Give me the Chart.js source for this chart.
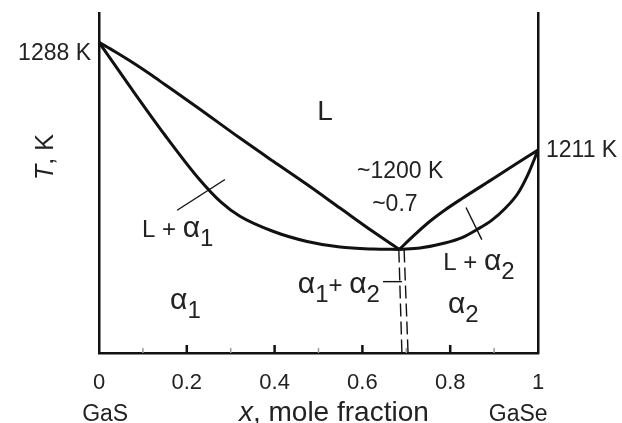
<!DOCTYPE html>
<html>
<head>
<meta charset="utf-8">
<script src="https://cdn.jsdelivr.net/npm/chart.js@4.4.1/dist/chart.umd.min.js"></script>
<style>
  html, body { margin: 0; padding: 0; background: #fff; }
  #wrap { width: 622px; height: 423px; position: relative; }
</style>
</head>
<body>
<div id="wrap"><canvas id="phase"></canvas></div>
<script>
// composition x (mole fraction GaSe) and temperature T (K)
const liquidusLeftX = [0, 0.036, 0.073, 0.116, 0.150, 0.226, 0.321, 0.396, 0.474, 0.549, 0.624, 0.684];
const liquidusLeftT = [1288, 1281.5, 1274.3, 1265.4, 1257.9, 1241.1, 1219.6, 1203.2, 1186.4, 1169.6, 1152.8, 1140];
const solidusLeftX = [0, 0.073, 0.150, 0.226, 0.278, 0.321, 0.396, 0.474, 0.549, 0.624, 0.684];
const solidusLeftT = [1288, 1255.3, 1221.8, 1191.1, 1173.8, 1163.7, 1153.0, 1145.7, 1141.7, 1140.3, 1140];
const liquidusRightX = [0.684, 0.7175, 0.749, 0.788, 0.827, 0.902, 0.954, 1];
const liquidusRightT = [1140, 1150.0, 1158.9, 1168.2, 1176.4, 1191.4, 1201.9, 1211];
const solidusRightX = [0.684, 0.731, 0.788, 0.827, 0.863, 0.895, 0.925, 0.954, 0.977, 1];
const solidusRightT = [1140, 1141.0, 1144.6, 1148.5, 1154.6, 1161.0, 1169.3, 1180.0, 1193.5, 1211];

// miscibility gap boundaries (dashed)
const gapLeftX = [0.683, 0.690];
const gapRightX = [0.695, 0.704];
const gapT = [1140, 1066];

// leader lines for region labels
const leaderLeftX = [0.178, 0.287];
const leaderLeftT = [1168, 1190];
const leaderRightX = [0.836, 0.872];
const leaderRightT = [1170, 1147];
const leaderGapX = [0.647, 0.690];
const leaderGapT = [1117, 1117];

const majorTicks = [0.2, 0.4, 0.6, 0.8];
const minorTicks = [0.1, 0.3, 0.5, 0.7, 0.9];
const xTickLabels = { 0: '0', 0.2: '0.2', 0.4: '0.4', 0.6: '0.6', 0.8: '0.8', 1: '1' };

const FONT = '"Liberation Sans", Arial, sans-serif';
const INK = '#111';
const TEXT = '#222';

const pts = (xs, ts) => xs.map((x, i) => ({ x: x, y: ts[i] }));

function curve(xs, ts) {
  return {
    data: pts(xs, ts),
    borderColor: INK,
    borderWidth: 3,
    pointRadius: 0,
    fill: false,
    cubicInterpolationMode: 'monotone'
  };
}

function thin(xs, ts, dash) {
  return {
    data: pts(xs, ts),
    borderColor: INK,
    borderWidth: 1.4,
    borderDash: dash || [],
    pointRadius: 0,
    fill: false
  };
}

// text with big alpha and dropped subscripts
function drawParts(ctx, parts, x, y) {
  let cx = x;
  parts.forEach(([t, kind]) => {
    ctx.font = (kind === 'a' ? '30px ' : '24px ') + FONT;
    ctx.fillText(t, cx, kind === 's' ? y + 9 : y);
    cx += ctx.measureText(t).width;
  });
}

const decorations = {
  id: 'decorations',
  afterDraw(chart) {
    const ctx = chart.ctx;
    const xs = chart.scales.x, ys = chart.scales.y;
    const bottom = chart.chartArea.bottom;
    ctx.save();

    // inward ticks
    ctx.lineCap = 'butt';
    ctx.strokeStyle = '#9a9a9a';
    ctx.lineWidth = 1.5;
    minorTicks.forEach(v => {
      const px = xs.getPixelForValue(v);
      ctx.beginPath(); ctx.moveTo(px, bottom); ctx.lineTo(px, bottom - 5); ctx.stroke();
    });
    ctx.strokeStyle = INK;
    ctx.lineWidth = 2.5;
    majorTicks.forEach(v => {
      const px = xs.getPixelForValue(v);
      ctx.beginPath(); ctx.moveTo(px, bottom); ctx.lineTo(px, bottom - 8); ctx.stroke();
    });

    ctx.fillStyle = TEXT;
    ctx.textBaseline = 'alphabetic';

    // melting points
    ctx.font = '23px ' + FONT;
    ctx.textAlign = 'right';
    ctx.fillText('1288 K', xs.getPixelForValue(0) - 8, ys.getPixelForValue(1288) + 18);
    ctx.textAlign = 'left';
    ctx.fillText('1211 K', xs.getPixelForValue(1) + 8, ys.getPixelForValue(1211) + 7);

    // minimum
    ctx.textAlign = 'center';
    ctx.fillText('~1200 K', xs.getPixelForValue(0.686), ys.getPixelForValue(1196.7) + 8);
    ctx.fillText('~0.7', xs.getPixelForValue(0.674), ys.getPixelForValue(1140) - 38);

    ctx.font = '28px ' + FONT;
    ctx.fillText('L', xs.getPixelForValue(0.515), ys.getPixelForValue(1239.5) + 10);

    // region labels
    ctx.textAlign = 'left';
    drawParts(ctx, [['L + ', 'n'], ['\u03b1', 'a'], ['1', 's']], xs.getPixelForValue(0.098), ys.getPixelForValue(1149));
    drawParts(ctx, [['\u03b1', 'a'], ['1', 's']], xs.getPixelForValue(0.162), ys.getPixelForValue(1097.6));
    drawParts(ctx, [['\u03b1', 'a'], ['1', 's'], ['+ ', 'n'], ['\u03b1', 'a'], ['2', 's']], xs.getPixelForValue(0.453), ys.getPixelForValue(1109));
    drawParts(ctx, [['L + ', 'n'], ['\u03b1', 'a'], ['2', 's']], xs.getPixelForValue(0.784), ys.getPixelForValue(1125.4));
    drawParts(ctx, [['\u03b1', 'a'], ['2', 's']], xs.getPixelForValue(0.795), ys.getPixelForValue(1094.8));

    // axis captions
    const capY = 421;
    ctx.textAlign = 'center';
    ctx.font = '23px ' + FONT;
    ctx.fillText('GaS', xs.getPixelForValue(0.014), capY);
    ctx.fillText('GaSe', xs.getPixelForValue(0.955), capY);

    ctx.font = '28px ' + FONT;
    const restW = ctx.measureText(', mole fraction').width;
    ctx.font = 'italic 28px ' + FONT;
    const xW = ctx.measureText('x').width;
    const startX = xs.getPixelForValue(0.535) - (xW + restW) / 2;
    ctx.textAlign = 'left';
    ctx.fillText('x', startX, capY);
    ctx.font = '28px ' + FONT;
    ctx.fillText(', mole fraction', startX + xW, capY);

    // y title
    ctx.save();
    ctx.translate(53, ys.getPixelForValue(1206));
    ctx.rotate(-Math.PI / 2);
    ctx.font = 'italic 25px ' + FONT;
    const tW = ctx.measureText('T').width;
    ctx.font = '25px ' + FONT;
    const kW = ctx.measureText(', K').width;
    ctx.textAlign = 'left';
    ctx.font = 'italic 25px ' + FONT;
    ctx.fillText('T', -(tW + kW) / 2, 0);
    ctx.font = '25px ' + FONT;
    ctx.fillText(', K', -(tW + kW) / 2 + tW, 0);
    ctx.restore();

    ctx.restore();
  }
};

new Chart(document.getElementById('phase'), {
  type: 'line',
  data: {
    datasets: [
      curve(liquidusLeftX, liquidusLeftT),
      curve(solidusLeftX, solidusLeftT),
      curve(liquidusRightX, liquidusRightT),
      curve(solidusRightX, solidusRightT),
      thin(gapLeftX, gapT, [13, 5]),
      thin(gapRightX, gapT, [13, 5]),
      thin(leaderLeftX, leaderLeftT),
      thin(leaderRightX, leaderRightT),
      thin(leaderGapX, leaderGapT)
    ]
  },
  options: {
    responsive: true,
    maintainAspectRatio: false,
    animation: false,
    layout: { padding: { top: 13, left: 0, right: 0, bottom: 0 } },
    plugins: {
      legend: { display: false },
      tooltip: { enabled: false }
    },
    scales: {
      x: {
        type: 'linear',
        min: 0,
        max: 1,
        afterFit: s => { s.height = 70; },
        grid: { display: false, drawTicks: false },
        border: { display: true, color: INK, width: 2.5 },
        ticks: {
          stepSize: 0.2,
          padding: 17,
          color: TEXT,
          font: { family: FONT, size: 22 },
          callback: v => xTickLabels[Math.round(v * 10) / 10]
        }
      },
      y: {
        type: 'linear',
        min: 1066,
        max: 1309,
        afterFit: s => { s.width = 99; },
        grid: { display: false, drawTicks: false },
        border: { display: true, color: INK, width: 2.5 },
        ticks: { display: false }
      },
      y2: {
        type: 'linear',
        position: 'right',
        min: 1066,
        max: 1309,
        afterFit: s => { s.width = 84; },
        grid: { display: false, drawTicks: false },
        border: { display: true, color: INK, width: 2.5 },
        ticks: { display: false }
      }
    }
  },
  plugins: [decorations]
});
</script>
</body>
</html>
